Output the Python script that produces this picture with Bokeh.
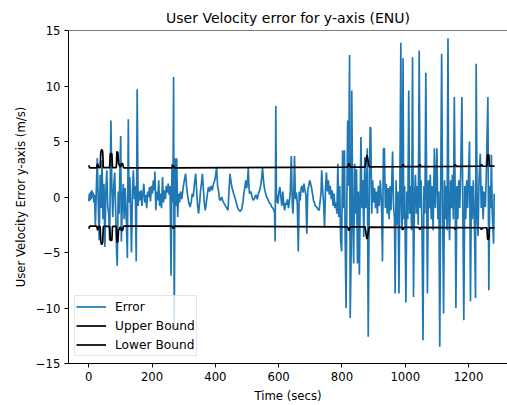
from bokeh.plotting import figure
from bokeh.models import Range1d, FixedTicker, Span, Legend, LegendItem
from bokeh.embed import file_html
from bokeh.resources import INLINE

# ---- data ----
err_time = [
    0, 2, 4, 6, 8, 10, 12, 14, 16, 18,
    21, 24, 27, 30, 33, 36, 39, 42, 45, 48,
    51, 54, 57, 60, 63, 66, 70, 73, 76, 79,
    82, 85, 88, 90, 93, 96, 98, 101, 103, 106,
    109, 112, 115, 118, 122, 125, 127, 130, 132, 135,
    138, 141, 144, 147, 150, 153, 156, 159, 162, 165,
    168, 171, 174, 177, 180, 183, 186, 189, 192, 195,
    198, 201, 204, 207, 209, 212, 215, 218, 221, 224,
    227, 230, 233, 236, 239, 242, 245, 248, 251, 254,
    257, 260, 263, 266, 268, 270, 272, 274, 276, 278,
    281, 284, 287, 290, 294, 298, 302, 306, 309, 312,
    316, 320, 324, 327, 330, 334, 338, 341, 344, 347,
    350, 353, 356, 359, 362, 365, 368, 371, 375, 378,
    382, 386, 390, 394, 398, 401, 404, 407, 410, 413,
    416, 420, 424, 428, 432, 436, 440, 443, 446, 449,
    452, 455, 458, 461, 464, 467, 471, 475, 479, 483,
    487, 490, 493, 496, 499, 502, 504, 506, 508, 512,
    516, 520, 524, 528, 532, 536, 540, 543, 546, 549,
    552, 555, 558, 562, 566, 570, 574, 578, 582, 585,
    587, 589, 591, 593, 595, 598, 601, 604, 607, 610,
    613, 616, 619, 622, 625, 628, 631, 634, 637, 640,
    643, 645, 648, 650, 653, 656, 659, 662, 665, 668,
    671, 674, 677, 680, 683, 686, 689, 692, 695, 698,
    701, 704, 707, 710, 713, 716, 720, 724, 728, 731,
    734, 736, 739, 742, 745, 748, 751, 754, 757, 760,
    763, 766, 769, 772, 775, 778, 781, 784, 787, 790,
    793, 796, 799, 802, 805, 808, 810, 813, 815, 818,
    821, 824, 826, 829, 831, 834, 837, 840, 843, 846,
    849, 852, 855, 858, 860, 863, 866, 869, 872, 875,
    878, 880, 883, 886, 889, 891, 894, 897, 900, 903,
    906, 909, 912, 915, 918, 921, 925, 928, 931, 934,
    937, 940, 943, 946, 949, 952, 955, 958, 960, 963,
    966, 968, 971, 974, 977, 980, 983, 986, 988, 990,
    993, 995, 998, 1002, 1005, 1008, 1011, 1014, 1017, 1020,
    1023, 1026, 1029, 1032, 1035, 1038, 1041, 1044, 1047, 1050,
    1053, 1056, 1059, 1062, 1065, 1068, 1070, 1073, 1076, 1079,
    1082, 1085, 1088, 1092, 1095, 1098, 1100, 1103, 1106, 1109,
    1112, 1115, 1118, 1121, 1124, 1127, 1130, 1132, 1135, 1137,
    1140, 1143, 1146, 1149, 1152, 1155, 1158, 1160, 1163, 1166,
    1169, 1172, 1175, 1179, 1182, 1185, 1188, 1191, 1194, 1197,
    1200, 1203, 1206, 1209, 1212, 1215, 1218, 1222, 1224, 1227,
    1230, 1233, 1237, 1240, 1243, 1246, 1249, 1253, 1256, 1261,
    1264, 1267, 1270, 1272, 1275, 1279, 1281,
]
err_value = [
    -0.4, 0.3, -0.3, 0.5, -0.2, 0.6, 0.0, 0.4, -0.5, 0.2,
    -2.6, 0.8, 3.5, -0.6, -3.9, 2.0, -1.0, 3.3, -2.0, 1.2,
    -4.5, 0.5, 2.4, -0.8, -1.5, -3.9, 6.9, 0.8, -1.8, 1.0,
    2.2, -1.2, -5.0, -6.2, 0.5, -1.5, 2.0, 5.5, -4.0, -0.5,
    1.2, -2.0, 0.8, -1.2, -5.5, 7.0, -0.5, 1.8, -1.0, -5.0,
    0.5, 2.4, -0.2, 1.0, -5.8, 9.7, -0.8, 0.5, -0.3, 0.6,
    -0.8, 0.3, 1.2, -0.5, 0.2, -1.0, 0.5, 0.0, 0.9, -0.4,
    1.0, 0.3, 1.5, 0.6, 2.3, -1.2, 0.5, -0.3, 1.5, -0.8,
    0.3, -1.0, 1.8, -0.5, 0.6, -0.2, 1.0, 0.4, 1.2, 0.2,
    1.0, -7.1, 3.0, -0.5, 10.8, -11.8, -1.0, 3.5, -0.8, 3.5,
    -1.8, 0.3, -0.5, 0.5, -0.2, 0.8, 1.5, 2.1, 1.0, 0.2,
    -0.5, -0.9, -0.4, 0.3, 0.0, 1.2, 2.1, 0.5, -0.8, -1.5,
    -0.6, 0.5, 1.2, 2.1, 0.8, -0.5, -1.2, -0.6, 0.3, 0.9,
    0.5, 1.0, 0.6, 1.2, 1.5, 2.0, 2.7, 1.0, 0.6, -0.2,
    -0.3, 0.0, -0.4, -0.6, -0.8, -1.0, -1.2, 0.5, 2.1, 1.5,
    0.9, 0.6, 0.3, 0.0, -0.3, -0.6, -1.0, -1.2, -1.3, -1.1,
    -0.5, 0.3, 0.8, 1.5, 0.8, 1.6, 2.6, 1.0, 0.3, 0.5,
    0.0, -0.3, -0.1, 0.2, -0.2, 0.3, 0.6, 1.0, 1.6, 2.6,
    1.5, 0.8, 0.4, 0.0, -0.2, -0.5, -0.6, -0.9, -1.0, -1.2,
    -1.4, -4.0, 8.2, -0.5, 0.2, -0.6, 0.5, 0.9, 0.0, -0.8,
    0.5, -0.6, -1.2, -0.5, -0.7, -0.2, -1.0, -0.4, 0.6, 3.7,
    -0.6, -1.5, 0.5, 3.7, -0.2, 0.4, -0.7, -4.9, 0.5, -0.3,
    0.8, 1.0, 0.4, 1.2, 0.6, 0.2, -3.3, 0.6, 1.0, 1.5,
    1.2, 0.8, 0.3, -0.3, -0.5, -0.8, -0.9, -1.1, -1.2, -0.4,
    0.5, 2.4, 0.6, -0.5, -2.8, 0.8, 2.2, 0.5, 1.5, 0.2,
    1.0, -0.2, 0.6, -0.8, 0.3, -1.0, -0.5, -1.5, 3.0, -1.8,
    1.0, -4.0, -4.9, 4.2, -1.0, 4.2, -3.6, -10.0, -2.0, 6.9,
    1.0, 12.8, -10.9, -5.1, 9.6, -2.0, -6.0, 3.0, -1.5, 2.5,
    -6.0, 0.5, -7.0, 1.0, 5.4, -1.0, 1.5, -3.6, 3.6, -1.0,
    1.0, 4.4, -12.6, -1.0, 6.3, 6.2, -1.5, 1.5, -0.5, 0.8,
    -1.0, 0.5, -1.5, 1.0, -0.8, 1.5, -0.5, -5.8, 4.3, 4.4,
    -1.0, 1.2, -1.5, 0.8, -2.0, 1.0, -1.2, 2.0, 4.1, -0.8,
    -2.0, -8.7, 1.5, -2.5, 0.5, -8.7, 1.0, 13.9, -1.0, -3.0,
    12.5, -2.0, 1.0, -9.5, 0.5, -2.0, 9.6, -1.5, 1.0, -3.0,
    12.6, -9.0, -0.5, 2.0, -1.5, 1.0, -2.5, 13.2, -1.0, 1.5,
    -3.0, -12.9, 1.0, -1.5, 11.2, -1.0, -8.7, 1.5, -1.0, 2.0,
    -2.0, 1.0, -3.0, 4.4, -1.0, 2.0, 4.4, -2.0, 0.5, -13.5,
    1.0, 12.9, -1.0, -10.5, 1.5, -2.0, 1.0, -3.0, 14.3, -1.0,
    -3.9, 1.5, -1.0, 2.0, -2.0, 9.0, -1.0, -10.0, 1.0, -2.0,
    1.5, -1.0, 2.0, 9.0, -1.5, -11.1, 1.0, -2.0, 1.5, -1.0,
    2.0, 5.0, -9.4, 1.0, -2.0, 1.5, -1.5, -9.1, 12.0, -1.0,
    -3.5, 1.5, 3.9, -1.0, 1.0, -2.0, 0.5, -0.9, 2.0, 9.0,
    -8.4, 1.0, -1.0, 3.8, -1.5, -4.2, 0.3,
]

bound_time = [
    0, 3, 25, 28, 31, 36, 38, 41, 44, 46,
    66, 68, 73, 75, 87, 89, 92, 94, 100, 103,
    107, 110, 263, 267, 271, 818, 822, 826, 873, 876,
    879, 883, 886, 990, 993, 996, 1043, 1046, 1049, 1155,
    1158, 1161, 1238, 1241, 1244, 1258, 1260, 1264, 1266, 1282,
]
upper_bound = [
    2.85, 2.62, 2.62, 3.0, 2.65, 2.65, 4.0, 4.3, 4.1, 2.65,
    2.65, 3.9, 3.9, 2.65, 2.65, 4.1, 4.0, 3.0, 2.7, 3.0,
    3.0, 2.62, 2.63, 2.85, 2.63, 2.7, 3.05, 2.7, 2.7, 3.3,
    3.8, 3.2, 2.72, 2.73, 2.95, 2.73, 2.74, 2.95, 2.74, 2.76,
    2.95, 2.76, 2.77, 2.95, 2.77, 2.77, 3.8, 3.8, 2.78, 2.78,
]
lower_bound = [
    -2.85, -2.62, -2.62, -3.0, -2.65, -2.65, -4.0, -4.3, -4.1, -2.65,
    -2.65, -3.9, -3.9, -2.65, -2.65, -4.1, -4.0, -3.0, -2.7, -3.0,
    -3.0, -2.62, -2.63, -2.85, -2.63, -2.7, -3.05, -2.7, -2.7, -3.3,
    -3.8, -3.2, -2.72, -2.73, -2.95, -2.73, -2.74, -2.95, -2.74, -2.76,
    -2.95, -2.76, -2.77, -2.95, -2.77, -2.77, -3.8, -3.8, -2.78, -2.78,
]

x_ticks = [0, 200, 400, 600, 800, 1000, 1200]
y_ticks = [-15, -10, -5, 0, 5, 10, 15]

assert len(err_time) == len(err_value)
assert len(bound_time) == len(upper_bound) == len(lower_bound)

FONT = "DejaVu Sans"
FS = "11.7px"

p = figure(width=507, height=405, output_backend="svg", toolbar_location=None,
           x_range=Range1d(-64, 1323), y_range=Range1d(-15, 15),
           min_border_left=68, min_border_right=0, min_border_top=30,
           min_border_bottom=42)
p.outline_line_color = None
p.grid.visible = False
p.background_fill_color = "white"

p.title.text = "User Velocity error for y-axis (ENU)"
p.title.align = "center"
p.title.text_font = FONT
p.title.text_font_size = "14px"
p.title.text_font_style = "normal"
p.title.text_color = "black"

r_err = p.line(err_time, err_value, line_color="#1f77b4", line_width=1.7)
r_up = p.line(bound_time, upper_bound, line_color="black", line_width=1.7)
r_lo = p.line(bound_time, lower_bound, line_color="black", line_width=1.7)

# top spine
p.add_layout(Span(location=15, dimension="width", line_color="black", line_width=1))

for ax in (p.xaxis[0], p.yaxis[0]):
    ax.axis_line_color = "black"
    ax.axis_line_width = 1
    ax.major_tick_line_color = "black"
    ax.major_tick_in = 0
    ax.major_tick_out = 4
    ax.minor_tick_line_color = None
    ax.major_label_text_font = FONT
    ax.major_label_text_font_size = FS
    ax.major_label_text_color = "black"
    ax.major_label_standoff = 4
    ax.axis_label_text_font = FONT
    ax.axis_label_text_font_size = FS
    ax.axis_label_text_font_style = "normal"
    ax.axis_label_text_color = "black"

p.xaxis.ticker = FixedTicker(ticks=x_ticks)
p.yaxis.ticker = FixedTicker(ticks=y_ticks)
p.yaxis.major_label_overrides = {t: (str(t).replace("-", "\u2212")) for t in y_ticks}
p.xaxis.axis_label = "Time (secs)"
p.yaxis.axis_label = "User Velocity Error y-axis (m/s)"
p.xaxis.axis_label_standoff = 5
p.yaxis.axis_label_standoff = 5

legend = Legend(items=[
    LegendItem(label="Error", renderers=[r_err]),
    LegendItem(label="Upper Bound", renderers=[r_up]),
    LegendItem(label="Lower Bound", renderers=[r_lo]),
], location=(6, 7))
legend.margin = 0
legend.padding = 1
legend.spacing = 0
legend.label_height = 19
legend.glyph_height = 19
legend.glyph_width = 30
legend.label_standoff = 9
legend.label_text_font = FONT
legend.label_text_font_size = "12.2px"
legend.label_text_color = "black"
legend.border_line_color = "#cccccc"
legend.border_line_width = 1
legend.background_fill_alpha = 0.8
p.add_layout(legend)

open("out.html", "w").write(file_html(p, INLINE))
